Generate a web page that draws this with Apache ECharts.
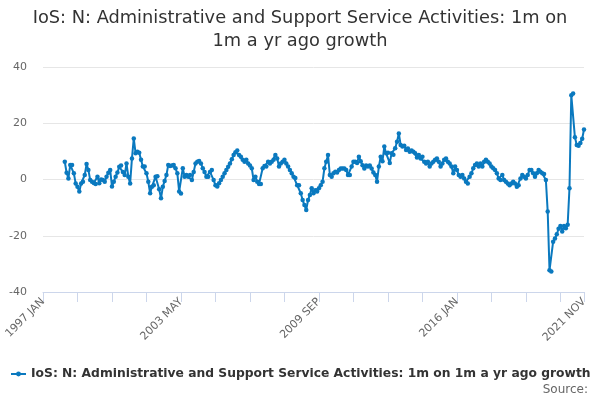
<!DOCTYPE html>
<html>
<head>
<meta charset="utf-8">
<script src="https://cdn.jsdelivr.net/npm/echarts@6/dist/echarts.min.js"></script>
<style>
html,body{margin:0;padding:0;background:#fff;}
#chart{width:600px;height:400px;}
</style>
</head>
<body>
<div id="chart"></div>
<script>
var titleText = 'IoS: N: Administrative and Support Service Activities: 1m on\n1m a yr ago growth';
var seriesName = 'IoS: N: Administrative and Support Service Activities: 1m on 1m a yr ago growth';
var monthNames = ['JAN','FEB','MAR','APR','MAY','JUN','JUL','AUG','SEP','OCT','NOV','DEC'];
var firstYear = 1997, lastYear = 2021, lastMonthIndex = 10; // 2021 NOV
var yTicks = [-40, -20, 0, 20, 40];

var v1997 = [null, null, null, null, null, null, null, null, null, null, null, null];
var v1998 = [6.3, 2.4, 0.4, 5.2, 5.2, 2.2, -1.4, -2.6, -4.3, -1.4, -0.8, 1.6];
var v1999 = [5.5, 3.4, -0.2, -0.8, -1.2, -1.6, 1.0, -1.3, 0.0, -0.2, -0.8, 1.0];
var v2000 = [2.4, 3.4, -2.5, -0.8, 1.0, 2.5, 4.5, 5.0, 2.7, 1.6, 5.7, 1.0];
var v2001 = [-1.4, 7.5, 14.6, 9.3, 9.9, 9.5, 7.0, 4.6, 4.6, 2.2, -0.8, -4.9];
var v2002 = [-2.6, -2.0, 1.0, 1.2, -3.5, -6.7, -2.6, -0.5, 1.6, 5.2, 4.8, 5.0];
var v2003 = [5.2, 4.0, 2.2, -4.3, -5.0, 4.0, 1.0, 1.6, 1.0, 1.6, -0.2, 2.7];
var v2004 = [5.7, 6.3, 6.6, 5.7, 4.0, 2.7, 1.0, 1.0, 2.7, 3.4, -0.2, -2.0];
var v2005 = [-2.5, -1.3, -0.2, 1.0, 2.2, 3.4, 4.5, 5.7, 7.2, 8.7, 9.7, 10.3];
var v2006 = [8.7, 8.1, 7.0, 6.3, 7.0, 5.7, 5.0, 4.0, -0.2, 1.0, -0.8, -1.6];
var v2007 = [-1.6, 4.0, 4.8, 4.6, 6.3, 5.7, 6.3, 7.0, 8.7, 7.5, 4.6, 5.7];
var v2008 = [6.3, 7.0, 5.7, 4.6, 3.4, 2.2, 1.0, 0.5, -2.0, -2.0, -4.9, -7.3];
var v2009 = [-9.1, -10.8, -7.3, -5.5, -3.1, -4.9, -3.8, -4.3, -3.1, -2.0, -0.8, 4.0];
var v2010 = [6.3, 8.7, 1.6, 1.0, 2.2, 2.8, 2.5, 3.4, 3.9, 3.9, 3.9, 3.4];
var v2011 = [1.6, 1.6, 4.6, 6.3, 6.3, 5.9, 8.1, 6.5, 5.1, 3.9, 5.0, 4.6];
var v2012 = [5.0, 3.9, 2.5, 1.6, -0.8, 4.6, 8.1, 6.5, 11.7, 9.3, 9.5, 5.9];
var v2013 = [9.3, 8.8, 11.1, 13.4, 16.4, 12.3, 11.7, 12.0, 10.5, 11.0, 9.9, 10.3];
var v2014 = [9.9, 9.3, 7.8, 8.7, 7.5, 8.1, 6.3, 5.7, 6.3, 4.6, 5.7, 6.3];
var v2015 = [7.0, 7.5, 6.3, 4.6, 5.7, 7.0, 7.5, 6.3, 5.7, 4.6, 2.2, 4.6];
var v2016 = [3.4, 1.6, 1.0, 1.6, 0.4, -0.8, -1.4, 1.0, 2.2, 4.0, 5.2, 5.7];
var v2017 = [4.6, 5.7, 4.6, 6.3, 7.0, 6.3, 5.7, 4.6, 4.0, 3.4, 2.2, 0.4];
var v2018 = [-0.2, 1.6, -0.2, -0.8, -1.4, -2.0, -1.4, -0.8, -1.4, -2.6, -2.0, 0.4];
var v2019 = [1.6, 1.0, 0.4, 1.6, 3.4, 3.4, 2.2, 1.0, 2.2, 3.4, 2.8, 2.2];
var v2020 = [2.0, -0.2, -11.4, -32.3, -32.7, -22.1, -21.0, -19.5, -17.5, -16.5, -18.5, -16.5];
var v2021 = [-17.3, -16.1, -3.1, 30.0, 30.6, 15.0, 12.3, 12.0, 13.0, 14.5, 17.8];

var categories = [];
for (var y = firstYear; y <= lastYear; y++) {
  for (var m = 0; m < 12; m++) {
    if (y === lastYear && m > lastMonthIndex) break;
    categories.push(y + ' ' + monthNames[m]);
  }
}
var values = [].concat(v1997, v1998, v1999, v2000, v2001, v2002, v2003, v2004, v2005,
  v2006, v2007, v2008, v2009, v2010, v2011, v2012, v2013, v2014, v2015, v2016,
  v2017, v2018, v2019, v2020, v2021);

var lastIdx = categories.length - 1;
var lineColor = '#0a79bf';

var chart = echarts.init(document.getElementById('chart'), null, {renderer: 'canvas'});
chart.setOption({
  animation: false,
  backgroundColor: '#ffffff',
  title: {
    text: titleText,
    left: 'center',
    top: 2,
    textStyle: {
      fontFamily: 'DejaVu Sans',
      fontSize: 17.8,
      fontWeight: 'normal',
      color: '#333333',
      lineHeight: 23
    }
  },
  legend: {
    bottom: 20,
    left: 10,
    padding: 0,
    itemWidth: 15,
    itemHeight: 6,
    itemGap: 5,
    textStyle: {
      fontFamily: 'DejaVu Sans',
      fontSize: 12.3,
      fontWeight: 'bold',
      color: '#333333'
    },
    data: [{name: seriesName}]
  },
  graphic: [{
    type: 'text',
    right: 12,
    bottom: 4,
    style: {
      text: 'Source:',
      fontFamily: 'DejaVu Sans',
      fontSize: 12,
      fill: '#666666'
    }
  }],
  grid: {
    left: 43,
    right: 16,
    top: 67,
    bottom: 108,
    containLabel: false
  },
  xAxis: {
    type: 'category',
    data: categories,
    boundaryGap: false,
    axisLine: {show: true, onZero: false, lineStyle: {color: '#ccd6eb', width: 1}},
    axisTick: {
      show: true,
      length: 10,
      lineStyle: {color: '#ccd6eb'},
      interval: function (index) { return index % 19 === 0 || index === lastIdx; }
    },
    axisLabel: {
      rotate: 45,
      margin: 8,
      fontFamily: 'DejaVu Sans',
      fontSize: 11,
      color: '#666666',
      hideOverlap: false,
      interval: function (index) { return index % 76 === 0 || index === lastIdx; }
    },
    splitLine: {show: false}
  },
  yAxis: {
    type: 'value',
    min: yTicks[0],
    max: yTicks[yTicks.length - 1],
    interval: 20,
    axisLine: {show: false},
    axisTick: {show: false},
    axisLabel: {
      fontFamily: 'DejaVu Sans',
      fontSize: 11,
      color: '#666666',
      margin: 16
    },
    splitLine: {lineStyle: {color: '#e6e6e6', width: 1}}
  },
  series: [{
    name: seriesName,
    type: 'line',
    data: values,
    connectNulls: false,
    showAllSymbol: true,
    symbol: 'circle',
    symbolSize: 4.5,
    color: lineColor,
    lineStyle: {width: 2, color: lineColor},
    itemStyle: {color: lineColor},
    emphasis: {disabled: true}
  }]
});
</script>
</body>
</html>
